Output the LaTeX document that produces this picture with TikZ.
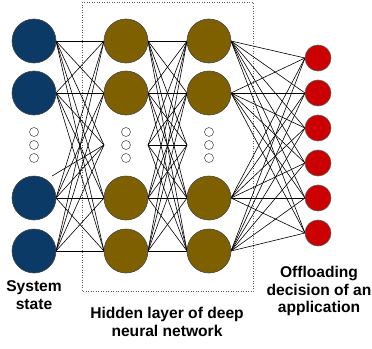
\documentclass[tikz,border=0pt]{standalone}
\usepackage{fontspec}
\setmainfont{Liberation Sans}
\usetikzlibrary{calc}
\definecolor{inblue}{RGB}{11,58,102}
\definecolor{hidbrown}{RGB}{127,96,0}
\definecolor{outred}{RGB}{204,0,0}
\definecolor{bord}{RGB}{70,70,70}
\definecolor{boxgray}{RGB}{90,90,90}
\begin{document}
\begin{tikzpicture}[x=1pt,y=-1pt,
  inp/.style={circle,fill=inblue,draw=bord,line width=0.6pt,minimum size=44pt,inner sep=0pt},
  hid/.style={circle,fill=hidbrown,draw=bord,line width=0.6pt,minimum size=44pt,inner sep=0pt},
  outn/.style={circle,fill=outred,draw=boxgray,line width=0.6pt,minimum size=26pt,inner sep=0pt},
  dotc/.style={circle,fill=white,draw=boxgray,line width=0.6pt,minimum size=9pt,inner sep=0pt},
  edge/.style={line width=0.6pt,black},
  lbl/.style={font=\fontsize{15.6}{17.5}\selectfont\bfseries,align=center,inner sep=0pt}]
\useasboundingbox (0,0) rectangle (372,348);
% dotted box
\draw[dotted,line width=0.5pt,boxgray] (82,2) rectangle (253,291);
% virtual convergence points
\coordinate (v1) at (104,145);
\coordinate (v2r) at (148,145);
\coordinate (v2l) at (187,145);
\coordinate (s0) at (52,176);
\foreach \i/\y in {1/41,2/93,3/198,4/251}{
  \path (34,\y) coordinate (I\i);
  \path (126,\y) coordinate (A\i);
  \path (209,\y) coordinate (B\i);
}
\foreach \k/\y in {1/58,2/93,3/128,4/163,5/198,6/233}{
  \path (318,\y) coordinate (O\k);
}
% edges input -> hidden1
\foreach \i in {1,...,4}{
  \foreach \j in {1,...,4}{
    \draw[edge] ($(I\i)+(22,0)$) -- ($(A\j)+(-22,0)$);
  }
  \draw[edge] ($(I\i)+(22,0)$) -- (v1);
}
\draw[edge] (s0) -- (v1);
% hidden1 -> hidden2
\foreach \i in {1,...,4}{
  \foreach \j in {1,...,4}{
    \draw[edge] ($(A\i)+(22,0)$) -- ($(B\j)+(-22,0)$);
  }
  \draw[edge] ($(A\i)+(22,0)$) -- (v2l);
  \draw[edge] (v2r) -- ($(B\i)+(-22,0)$);
}
\draw[edge] (v2r) -- (v2l);
% hidden2 -> output
\foreach \i in {1,...,4}{
  \foreach \k in {1,...,6}{
    \draw[edge] ($(B\i)+(22,0)$) -- ($(O\k)+(-13,0)$);
  }
}
% nodes
\foreach \i in {1,...,4}{
  \node[inp] (in\i) at (I\i) {};
  \node[hid] (ha\i) at (A\i) {};
  \node[hid] (hb\i) at (B\i) {};
}
\foreach \k in {1,...,6}{
  \node[outn] (o\k) at (O\k) {};
}
\foreach \x/\n in {34/i,126/a,209/b}{
  \foreach \y/\m in {132/1,145/2,158/3}{
    \node[dotc] (d\n\m) at (\x,\y) {};
  }
}
% labels
\node[lbl] (l1) at (34,295) {System\\state};
\node[lbl] (l2) at (167,322) {Hidden layer of deep\\neural network};
\node[lbl] (l3) at (319,291) {Offloading\\decision of an\\application};
\end{tikzpicture}
\end{document}
